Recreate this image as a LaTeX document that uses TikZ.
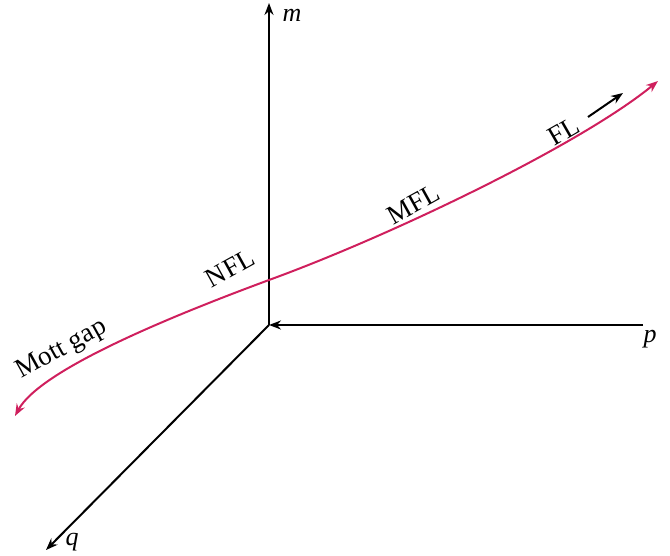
\documentclass[tikz,border=0pt]{standalone}
\usepackage{fontspec}
\setmainfont{Liberation Serif}
\usetikzlibrary{arrows.meta}
\definecolor{curvecol}{RGB}{207,31,93}
\begin{document}
\begin{tikzpicture}[x=1pt,y=-1pt,
  axis/.style={line width=2pt,black,-{Stealth[length=12pt,width=9pt,inset=4pt]}},
  crv/.style={line width=2pt,curvecol,{Stealth[length=12pt,width=9pt,inset=4pt]}-{Stealth[length=12pt,width=9pt,inset=4pt]}},
  lbl/.style={font=\fontsize{27}{32}\selectfont,inner sep=0pt},
  axlbl/.style={font=\fontsize{26}{30}\selectfont\itshape,inner sep=0pt}]
\useasboundingbox (0,0) rectangle (670,556);
\coordinate (O) at (269,325);
\coordinate (mtop) at (269,3);
\coordinate (pend) at (643,325);
\coordinate (qend) at (46,550);
\draw[axis] (O) -- (mtop);
\draw[axis] (pend) -- (O);
\draw[axis] (O) -- (qend);
\node[axlbl] (m) at (292,15) {m};
\node[axlbl] (p) at (650,339) {p};
\node[axlbl] (q) at (72,542) {q};
\coordinate (cs) at (15,416);
\coordinate (cm) at (269,280);
\coordinate (ce) at (658,81);
\draw[crv] (cs) .. controls (40,370) and (169,317) .. (cm)
  .. controls (390,236) and (580,145) .. (ce);
\node[lbl,rotate=29] (mott) at (62,350) {Mott gap};
\node[lbl,rotate=29] (nfl) at (230,268) {NFL};
\node[lbl,rotate=29] (mfl) at (413,204) {MFL};
\node[lbl,rotate=30] (fl) at (564,131) {FL};
\coordinate (fla) at (588,117);
\coordinate (flb) at (623,93);
\draw[axis] (fla) -- (flb);
\end{tikzpicture}
\end{document}
